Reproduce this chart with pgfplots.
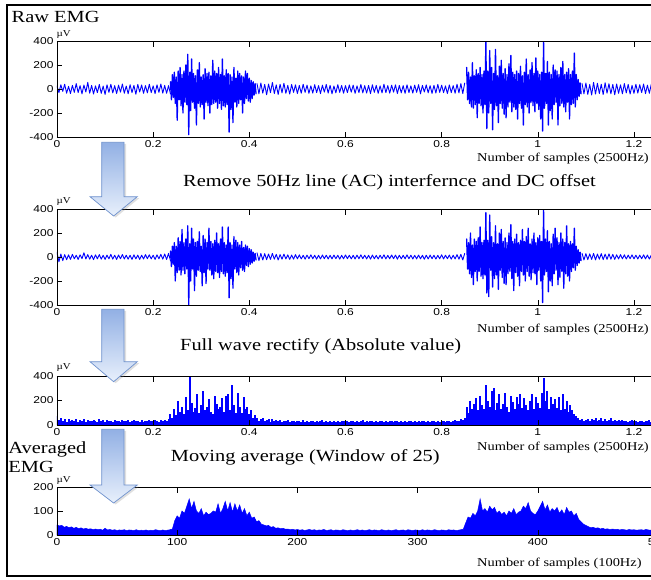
\documentclass[border=0pt]{standalone}
\usepackage{pgfplots}
\pgfplotsset{compat=1.18}
\usepackage{fontspec}
\setmainfont{Liberation Serif}
\newfontfamily\tickfont{Liberation Sans}
\usetikzlibrary{shadows}
\definecolor{arrowtop}{RGB}{146,176,228}
\definecolor{arrowbot}{RGB}{232,240,252}
\definecolor{arrowedge}{RGB}{110,145,205}
\definecolor{sigblue}{RGB}{0,0,255}
\newcommand{\sx}[1]{\scalebox{1.2}[1]{#1}}
\newcommand{\ttl}{\fontsize{17}{20}\selectfont}
\pgfplotsset{emgbase/.style={
  scale only axis, width=601pt, clip=true, axis on top,
  anchor=south west,
  tick align=inside, major tick length=5.5pt,
  axis line style={black, line width=0.6pt},
  tick style={black, line width=0.6pt},
  tick label style={font=\tickfont\fontsize{10}{12}\selectfont},
  xticklabel={\sx{\pgfmathprintnumber[assume math mode=true]{\tick}}},
  yticklabel={\sx{\pgfmathprintnumber[assume math mode=true]{\tick}}},
},
sig/.style={sigblue, line width=0.9pt, line join=round, line cap=round},
sigb/.style={sigblue, line width=1.3pt, line join=round, line cap=round}}
\begin{document}
\begin{tikzpicture}
\useasboundingbox (0pt,0pt) rectangle (651pt,-579pt);
\clip (0pt,0pt) rectangle (651pt,-579pt);
% ---------------- Panel 1: raw EMG
\begin{axis}[emgbase, at={(57pt,-137pt)}, height=96pt,
  xmin=0, xmax=1.25, ymin=-400, ymax=400,
  xtick={0,0.2,0.4,0.6,0.8,1,1.2}, ytick={-400,-200,0,200,400}]
\addplot[sig] table[header=false, row sep=\\, x expr=\coordindex*0.004, y index=0] {
25\\-30\\35\\-20\\40\\-35\\22\\-38\\30\\-28\\
45\\-30\\28\\-40\\33\\-25\\55\\-35\\30\\-42\\
26\\-30\\38\\-36\\24\\-45\\35\\-28\\40\\-33\\
28\\-38\\32\\-26\\42\\-35\\25\\-40\\36\\-30\\
30\\-44\\38\\-25\\34\\-36\\28\\-32\\40\\-30\\
26\\-38\\35\\-28\\42\\-34\\30\\-36\\28\\-40\\
};
\addplot[sigb] table[header=false, row sep=\\, x expr=0.236+\coordindex*0.002, y index=0] {
60\\-90\\120\\-70\\140\\-120\\100\\-260\\150\\-90\\
180\\-140\\120\\-200\\150\\-110\\200\\-130\\290\\-380\\
140\\-180\\250\\-110\\130\\-160\\110\\-300\\160\\-120\\
220\\-150\\100\\-130\\120\\-250\\170\\-110\\130\\-140\\
140\\-200\\110\\-130\\240\\-120\\150\\-110\\130\\-160\\
180\\-120\\120\\-170\\250\\-140\\110\\-150\\160\\-130\\
130\\-360\\120\\-170\\100\\-280\\180\\-110\\90\\-150\\
150\\-120\\130\\-90\\110\\-200\\100\\-120\\150\\-80\\
130\\-100\\90\\-110\\70\\-80\\60\\-50\\45\\-40\\
};
\addplot[sig] table[header=false, row sep=\\, x expr=0.416+\coordindex*0.004, y index=0] {
45\\-40\\50\\-35\\38\\-48\\42\\-30\\55\\-38\\
35\\-45\\40\\-32\\48\\-36\\30\\-42\\38\\-28\\
34\\-38\\30\\-35\\40\\-28\\32\\-36\\26\\-34\\
36\\-30\\28\\-38\\32\\-26\\38\\-34\\30\\-40\\
25\\-32\\36\\-28\\30\\-35\\28\\-30\\34\\-26\\
32\\-36\\26\\-30\\38\\-32\\28\\-34\\30\\-38\\
35\\-28\\30\\-36\\26\\-32\\40\\-30\\28\\-35\\
32\\-26\\34\\-38\\30\\-32\\28\\-36\\35\\-30\\
26\\-34\\32\\-28\\36\\-40\\30\\-25\\34\\-32\\
28\\-36\\30\\-34\\38\\-28\\32\\-30\\26\\-38\\
34\\-30\\28\\-35\\40\\-32\\45\\-38\\50\\
};
\addplot[sigb] table[header=false, row sep=\\, x expr=0.852+\coordindex*0.002, y index=0] {
180\\-90\\140\\-120\\100\\-150\\220\\-160\\110\\-130\\
160\\-240\\130\\-120\\180\\-140\\120\\-200\\150\\-130\\
400\\-330\\150\\-200\\320\\-120\\180\\-340\\130\\-170\\
330\\-140\\110\\-280\\190\\-120\\240\\-160\\130\\-210\\
170\\-240\\120\\-150\\210\\-110\\280\\-190\\140\\-150\\
120\\-170\\150\\-250\\130\\-120\\190\\-160\\110\\-300\\
140\\-130\\250\\-150\\120\\-200\\160\\-110\\220\\-140\\
130\\-190\\260\\-120\\150\\-170\\120\\-250\\140\\-350\\
400\\-160\\130\\-120\\230\\-300\\140\\-180\\120\\-250\\
200\\-130\\160\\-110\\150\\-300\\120\\-140\\180\\-120\\
230\\-150\\120\\-190\\140\\-110\\170\\-250\\120\\-130\\
150\\-120\\300\\-150\\120\\-90\\80\\-60\\50\\-40\\
};
\addplot[sig] table[header=false, row sep=\\, x expr=1.092+\coordindex*0.004, y index=0] {
45\\-40\\50\\-45\\38\\-50\\55\\-42\\48\\-38\\
40\\-46\\52\\-35\\44\\-40\\38\\-48\\42\\-36\\
35\\-40\\45\\-32\\38\\-42\\30\\-36\\40\\-34\\
36\\-30\\42\\-38\\32\\-36\\40\\-30\\34\\-38\\
};
\end{axis}
% ---------------- Panel 2: filtered EMG
\begin{axis}[emgbase, at={(57pt,-305pt)}, height=96pt,
  xmin=0, xmax=1.25, ymin=-400, ymax=400,
  xtick={0,0.2,0.4,0.6,0.8,1,1.2}, ytick={-400,-200,0,200,400}]
\addplot[sig] table[header=false, row sep=\\, x expr=\coordindex*0.004, y index=0] {
40\\-40\\25\\-30\\20\\-22\\18\\-20\\22\\-15\\
15\\-20\\18\\-14\\35\\-16\\20\\-18\\15\\-22\\
18\\-15\\20\\-18\\14\\-20\\16\\-15\\22\\-18\\
15\\-20\\17\\-14\\20\\-16\\15\\-18\\14\\-20\\
18\\-15\\16\\-20\\15\\-17\\20\\-14\\18\\-16\\
15\\-20\\18\\-15\\22\\-18\\25\\-20\\30\\-30\\
};
\addplot[sigb] table[header=false, row sep=\\, x expr=0.236+\coordindex*0.002, y index=0] {
50\\-80\\90\\-60\\120\\-200\\90\\-130\\160\\-110\\
130\\-150\\230\\-110\\120\\-140\\150\\-100\\260\\-400\\
110\\-200\\240\\-100\\150\\-280\\120\\-160\\130\\-110\\
210\\-120\\90\\-240\\180\\-130\\150\\-220\\120\\-100\\
240\\-110\\130\\-150\\110\\-180\\140\\-120\\200\\-130\\
110\\-170\\150\\-120\\250\\-140\\120\\-160\\100\\-130\\
250\\-340\\120\\-180\\100\\-260\\170\\-100\\140\\-130\\
120\\-150\\100\\-90\\130\\-110\\80\\-120\\100\\-70\\
90\\-80\\70\\-60\\60\\-50\\40\\-35\\30\\-25\\
};
\addplot[sig] table[header=false, row sep=\\, x expr=0.416+\coordindex*0.004, y index=0] {
35\\-30\\30\\-25\\28\\-22\\25\\-20\\30\\-18\\
22\\-25\\20\\-18\\24\\-16\\18\\-20\\16\\-18\\
20\\-15\\18\\-16\\14\\-18\\16\\-14\\18\\-15\\
15\\-18\\14\\-16\\17\\-14\\15\\-17\\14\\-16\\
16\\-14\\15\\-18\\14\\-15\\17\\-14\\15\\-16\\
14\\-17\\16\\-15\\18\\-14\\15\\-16\\14\\-18\\
16\\-15\\14\\-17\\15\\-14\\18\\-16\\14\\-15\\
17\\-14\\16\\-18\\15\\-16\\14\\-15\\18\\-14\\
15\\-17\\14\\-16\\16\\-15\\14\\-18\\15\\-16\\
16\\-14\\15\\-17\\14\\-15\\18\\-16\\15\\-14\\
16\\-18\\15\\-16\\20\\-18\\22\\-25\\30\\
};
\addplot[sigb] table[header=false, row sep=\\, x expr=0.852+\coordindex*0.002, y index=0] {
150\\-100\\120\\-140\\200\\-170\\100\\-230\\150\\-120\\
130\\-200\\160\\-120\\250\\-160\\120\\-180\\140\\-150\\
370\\-300\\140\\-330\\350\\-110\\170\\-250\\120\\-180\\
260\\-150\\110\\-270\\200\\-110\\230\\-170\\130\\-220\\
160\\-230\\120\\-140\\200\\-120\\270\\-180\\130\\-280\\
150\\-130\\190\\-160\\120\\-240\\140\\-120\\230\\-150\\
130\\-200\\170\\-120\\240\\-160\\110\\-190\\150\\-130\\
200\\-140\\120\\-230\\160\\-110\\180\\-200\\130\\-380\\
390\\-150\\150\\-120\\220\\-290\\130\\-200\\110\\-240\\
190\\-140\\240\\-110\\160\\-230\\120\\-170\\200\\-120\\
150\\-260\\120\\-140\\260\\-160\\110\\-200\\130\\-120\\
110\\-90\\240\\-110\\90\\-70\\60\\-50\\40\\-30\\
};
\addplot[sig] table[header=false, row sep=\\, x expr=1.092+\coordindex*0.004, y index=0] {
30\\-25\\28\\-22\\26\\-20\\30\\-24\\25\\-18\\
28\\-22\\24\\-20\\26\\-18\\22\\-20\\18\\-16\\
20\\-15\\18\\-17\\16\\-14\\18\\-16\\15\\-17\\
16\\-14\\18\\-15\\16\\-17\\15\\-14\\18\\-15\\
};
\end{axis}
% ---------------- Panel 3: rectified
\begin{axis}[emgbase, at={(57pt,-425pt)}, height=49pt,
  xmin=0, xmax=1.25, ymin=0, ymax=400,
  xtick={0,0.2,0.4,0.6,0.8,1,1.2}, ytick={0,200,400}]
\addplot[sigblue, ycomb, line width=2pt] table[header=false, row sep=\\, x expr=\coordindex*0.004, y index=0] {
70\\40\\60\\30\\45\\25\\50\\35\\40\\30\\
45\\28\\38\\30\\50\\25\\42\\35\\30\\40\\
35\\28\\45\\30\\38\\25\\40\\32\\36\\28\\
42\\30\\35\\26\\40\\32\\30\\38\\28\\35\\
40\\30\\36\\28\\42\\25\\35\\30\\38\\32\\
30\\40\\35\\28\\38\\30\\42\\35\\45\\
90\\60\\130\\80\\200\\110\\150\\90\\230\\120\\
400\\180\\110\\140\\250\\100\\160\\280\\120\\150\\
210\\110\\90\\240\\170\\130\\150\\220\\110\\240\\
250\\120\\330\\160\\100\\260\\150\\100\\230\\130\\
150\\90\\120\\60\\80\\
55\\35\\45\\60\\30\\40\\50\\28\\45\\35\\
40\\30\\38\\26\\35\\30\\42\\25\\36\\30\\
28\\35\\30\\25\\38\\28\\32\\26\\35\\30\\
28\\34\\26\\30\\38\\25\\32\\28\\35\\26\\
30\\28\\34\\25\\30\\36\\28\\32\\26\\30\\
35\\28\\30\\25\\32\\38\\28\\30\\26\\34\\
30\\28\\36\\25\\30\\32\\28\\35\\26\\30\\
32\\28\\30\\36\\26\\34\\28\\30\\25\\32\\
35\\28\\30\\26\\34\\28\\32\\30\\26\\35\\
28\\32\\30\\26\\34\\28\\30\\36\\28\\32\\
30\\28\\34\\40\\30\\35\\45\\40\\60\\
150\\100\\200\\130\\170\\220\\120\\240\\160\\130\\
330\\200\\150\\280\\300\\120\\180\\250\\130\\170\\
260\\150\\110\\240\\190\\130\\230\\170\\250\\140\\
220\\160\\120\\200\\250\\130\\230\\180\\140\\260\\
380\\200\\280\\130\\230\\170\\210\\140\\230\\120\\
250\\130\\200\\110\\160\\120\\90\\70\\60\\40\\
45\\35\\40\\50\\30\\45\\38\\55\\32\\40\\
60\\35\\45\\30\\40\\55\\35\\42\\30\\38\\
35\\40\\30\\36\\28\\34\\40\\30\\35\\28\\
32\\36\\28\\34\\30\\38\\26\\32\\35\\30\\
};
\end{axis}
% ---------------- Panel 4: moving average
\begin{axis}[emgbase, at={(57pt,-535pt)}, height=48pt,
  xmin=0, xmax=500, ymin=0, ymax=200,
  xtick={0,100,200,300,400,500}, ytick={0,100,200}]
\addplot[sigblue, fill=sigblue, line width=0.5pt] table[header=false, row sep=\\, x expr=\coordindex*2, y index=0] {
42\\38\\40\\32\\36\\30\\34\\28\\32\\26\\
30\\25\\28\\24\\26\\22\\25\\22\\24\\20\\
28\\21\\23\\20\\22\\19\\21\\20\\22\\18\\
21\\20\\19\\22\\18\\20\\19\\21\\18\\20\\
19\\22\\20\\18\\21\\19\\20\\22\\25\\
60\\80\\70\\100\\90\\120\\150\\110\\140\\100\\
90\\110\\80\\95\\85\\90\\100\\95\\130\\90\\
110\\140\\100\\135\\95\\130\\100\\125\\90\\110\\
80\\95\\70\\75\\55\\60\\45\\
42\\38\\40\\32\\35\\28\\30\\26\\28\\24\\
25\\22\\24\\21\\23\\20\\22\\19\\21\\23\\
20\\22\\19\\21\\20\\23\\19\\20\\22\\18\\
21\\20\\19\\22\\20\\18\\21\\19\\20\\22\\
19\\21\\18\\20\\22\\19\\21\\20\\18\\22\\
20\\19\\21\\18\\20\\22\\19\\20\\21\\18\\
22\\20\\19\\21\\20\\18\\22\\19\\21\\20\\
19\\22\\20\\18\\21\\20\\19\\22\\20\\21\\
19\\20\\22\\24\\
50\\75\\70\\90\\80\\100\\150\\100\\110\\95\\
120\\105\\115\\90\\100\\85\\95\\80\\100\\90\\
110\\85\\95\\100\\120\\110\\135\\100\\90\\85\\
100\\120\\140\\105\\125\\95\\110\\100\\115\\90\\
105\\85\\115\\95\\100\\80\\90\\65\\55\\45\\
40\\35\\30\\
32\\28\\30\\25\\28\\24\\26\\22\\25\\23\\
24\\21\\23\\22\\20\\23\\21\\22\\20\\21\\
22\\20\\23\\21\\20\\22\\19\\21\\
} \closedcycle;
\end{axis}
% ---------------- texts
\node[anchor=base west, inner sep=0] at (11.5pt,-22.7pt) {\sx{\ttl Raw EMG}};
\node[anchor=base west, inner sep=0] at (183pt,-186.7pt) {\sx{\ttl Remove 50Hz line (AC) interfernce and DC offset}};
\node[anchor=base west, inner sep=0] at (180pt,-350pt) {\sx{\ttl Full wave rectify (Absolute value)}};
\node[anchor=base west, inner sep=0] at (170.7pt,-461.7pt) {\sx{\ttl Moving average (Window of 25)}};
\node[anchor=base west, inner sep=0] at (8.3pt,-453.3pt) {\sx{\ttl Averaged}};
\node[anchor=base west, inner sep=0] at (8.3pt,-472.7pt) {\sx{\ttl EMG}};
\node[anchor=base west, inner sep=0] at (56.5pt,-36pt) {\sx{\fontsize{9}{10}\selectfont µV}};
\node[anchor=base west, inner sep=0] at (56.5pt,-203.3pt) {\sx{\fontsize{9}{10}\selectfont µV}};
\node[anchor=base west, inner sep=0] at (56.5pt,-369.3pt) {\sx{\fontsize{9}{10}\selectfont µV}};
\node[anchor=base west, inner sep=0] at (56.5pt,-482.7pt) {\sx{\fontsize{9}{10}\selectfont µV}};
\node[anchor=base west, inner sep=0] at (477pt,-161.7pt) {\sx{\fontsize{12}{14}\selectfont Number of samples (2500Hz)}};
\node[anchor=base west, inner sep=0] at (477pt,-332.7pt) {\sx{\fontsize{12}{14}\selectfont Number of samples (2500Hz)}};
\node[anchor=base west, inner sep=0] at (477pt,-450pt) {\sx{\fontsize{12}{14}\selectfont Number of samples (2500Hz)}};
\node[anchor=base west, inner sep=0] at (477pt,-566pt) {\sx{\fontsize{12}{14}\selectfont Number of samples (100Hz)}};
% ---------------- arrows
\foreach \ya/\yb/\yc in {142.3/196.7/216, 309.3/361.7/381.7, 429.3/485/503}{
  \draw[draw=arrowedge, line width=0.7pt, top color=arrowtop, bottom color=arrowbot,
        drop shadow={shadow xshift=2pt, shadow yshift=-1.5pt, opacity=0.25}]
    (101.7pt,-\ya pt) -- (124pt,-\ya pt) -- (124pt,-\yb pt) -- (137.3pt,-\yb pt)
    -- (113.6pt,-\yc pt) -- (90pt,-\yb pt) -- (101.7pt,-\yb pt) -- cycle;
}
% ---------------- outer frame
\draw[black, line width=2.2pt] (7pt,-5pt) rectangle (680pt,-576pt);
\end{tikzpicture}
\end{document}
